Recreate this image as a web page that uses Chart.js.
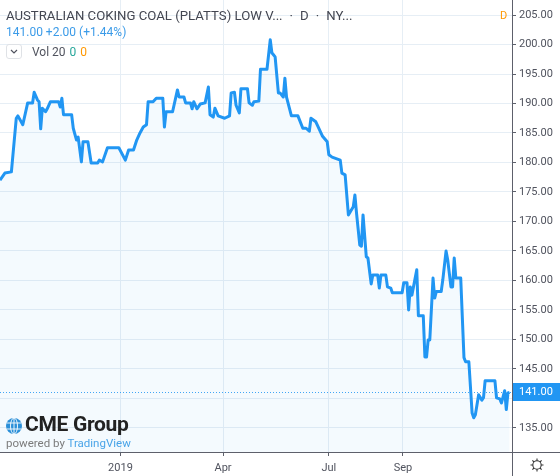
<!DOCTYPE html>
<html>
<head>
<meta charset="utf-8">
<script src="https://cdn.jsdelivr.net/npm/chart.js@4.4.1/dist/chart.umd.min.js"></script>
<style>
    html, body { margin: 0; padding: 0; background: #fff; }
    #wrap { position: relative; width: 560px; height: 476px; overflow: hidden; font-family: Roboto, "DejaVu Sans", sans-serif; }
    #chart { position: absolute; left: 0; top: 0; }
    .ov { position: absolute; white-space: nowrap; line-height: 1; }
    #titulo { left: 6px; top: 9px; font-size: 13.2px; color: #434651; }
    #titulo .sep { margin: 0 7px; }
    #precio { left: 6px; top: 26px; font-size: 12px; color: #3b9be8; }
    #volBox { left: 6px; top: 44px; width: 16px; height: 15px; border: 1px solid #dfe2e6; border-radius: 3px; box-sizing: border-box; }
    #vol { left: 32px; top: 46px; font-size: 12px; color: #50535e; }
    #vol .v1 { color: #26a69a; margin-left: 4px; }
    #vol .v2 { color: #ff9800; margin-left: 4px; }
    #marcaD { left: 500px; top: 10px; font-size: 11px; color: #ff9800; }
    #logo { left: 5px; top: 417px; }
    #cme { left: 25px; top: 414px; font-size: 21px; font-weight: bold; color: #222; letter-spacing: -0.3px; }
    #powered { left: 6px; top: 438px; font-size: 11.5px; color: #7b7b7b; }
    #powered span { color: #4aa4e8; }
    #gear { left: 529px; top: 457px; }
</style>
</head>
<body>
<div id="wrap">
    <canvas id="chart" width="560" height="476"></canvas>
    <div class="ov" id="titulo">AUSTRALIAN COKING COAL (PLATTS) LOW V...<span class="sep">&middot;</span>D<span class="sep">&middot;</span>NY...</div>
    <div class="ov" id="precio">141.00 +2.00 (+1.44%)</div>
    <div class="ov" id="volBox">
        <svg width="14" height="13" viewBox="0 0 14 13"><path d="M4 5 L7 8 L10 5" fill="none" stroke="#50535e" stroke-width="1.2"/></svg>
    </div>
    <div class="ov" id="vol">Vol 20<span class="v1">0</span><span class="v2">0</span></div>
    <div class="ov" id="marcaD">D</div>
    <svg class="ov" id="logo" width="18" height="18" viewBox="0 0 18 18">
        <circle cx="9" cy="9" r="8" fill="#2a8fd8"/>
        <ellipse cx="9" cy="9" rx="3.5" ry="8" fill="none" stroke="#fff" stroke-width="0.9"/>
        <line x1="9" y1="1" x2="9" y2="17" stroke="#fff" stroke-width="0.9"/>
        <line x1="1.5" y1="6" x2="16.5" y2="6" stroke="#fff" stroke-width="0.9"/>
        <line x1="1.5" y1="12" x2="16.5" y2="12" stroke="#fff" stroke-width="0.9"/>
    </svg>
    <div class="ov" id="cme">CME Group</div>
    <div class="ov" id="powered">powered by <span>TradingView</span></div>
    <svg class="ov" id="gear" width="16" height="16" viewBox="0 0 16 16">
        <circle cx="8" cy="8" r="4.2" fill="none" stroke="#333" stroke-width="1.1"/>
        <path d="M8 1.5 V3.8 M8 12.2 V14.5 M1.5 8 H3.8 M12.2 8 H14.5 M3.4 3.4 L5 5 M11 11 L12.6 12.6 M3.4 12.6 L5 11 M11 5 L12.6 3.4" stroke="#333" stroke-width="1.1"/>
    </svg>
</div>

<script>
// indice de barra (dias habiles desde el inicio del grafico) y precio
const barras = [
    0, 3, 7, 10, 11, 14, 17, 20, 21, 23, 24, 25, 26, 28, 29, 31, 36, 37, 38, 39,
    44, 45, 47, 48, 50, 51, 54, 56, 60, 61, 63, 66, 73, 77, 79, 82, 84, 86, 88, 90,
    91, 94, 96, 100, 101, 102, 106, 109, 110, 113, 114, 117, 118, 119, 121, 123, 126, 128, 129, 131,
    132, 134, 138, 141, 142, 144, 145, 147, 148, 152, 153, 155, 156, 159, 160, 164, 166, 167, 169, 171,
    172, 174, 175, 176, 179, 183, 186, 188, 190, 191, 194, 198, 201, 202, 204, 209, 210, 212, 214, 217,
    218, 219, 221, 222, 223, 225, 226, 228, 229, 232, 233, 234, 237, 238, 240, 241, 247, 248, 250, 251,
    252, 253, 256, 257, 260, 261, 262, 263, 264, 266, 267, 268, 271, 272, 274, 275, 277, 278, 279, 280,
    283, 285, 286, 288, 290, 291, 292, 294, 296, 297, 298, 304, 305, 307, 308, 310, 311, 312, 313
];
const precios = [
    177.0, 178.2, 178.4, 187.5, 187.9, 186.4, 190.1, 190.1, 191.9, 190.6, 190.3, 185.7, 189.2, 188.6, 189.1, 190.3, 190.3, 189.4, 190.9, 188.1,
    188.1, 185.8, 183.8, 184.3, 180.1, 183.5, 183.5, 179.9, 179.9, 180.4, 180.1, 182.5, 182.5, 180.4, 182.1, 182.1, 183.8, 185.0, 186.0, 186.4,
    190.3, 190.3, 190.9, 190.9, 186.0, 188.6, 188.6, 192.3, 191.1, 191.1, 190.1, 190.1, 189.1, 190.3, 189.1, 189.9, 190.1, 192.8, 188.1, 187.7,
    189.2, 187.9, 187.5, 187.9, 191.8, 191.9, 189.7, 188.4, 192.5, 192.5, 190.1, 189.7, 190.3, 190.4, 195.8, 195.8, 200.8, 198.6, 197.9, 191.8,
    191.8, 191.1, 194.3, 191.1, 187.9, 187.9, 185.8, 185.8, 185.3, 187.5, 186.9, 184.5, 183.5, 181.3, 180.9, 180.4, 178.2, 177.9, 171.1, 172.5,
    174.5, 171.4, 166.0, 165.8, 171.1, 164.0, 163.8, 159.4, 160.9, 160.9, 158.7, 160.9, 160.9, 158.9, 158.7, 157.9, 157.9, 159.6, 159.6, 155.0,
    158.9, 157.5, 161.8, 154.0, 154.0, 147.0, 147.0, 149.9, 149.9, 160.4, 157.0, 158.1, 158.1, 160.1, 165.0, 163.5, 158.9, 158.9, 163.8, 160.4,
    160.4, 146.9, 146.2, 146.2, 137.5, 136.7, 137.2, 140.6, 139.7, 140.1, 143.0, 143.0, 140.1, 139.9, 139.2, 141.3, 138.1, 140.9, 141.0
];

// marcas del eje x (en indice de barra) y sus textos
const barrasEtiquetas = [74, 137, 202, 247.5];
const textosEtiquetas = ["2019", "Apr", "Jul", "Sep"];

// marcas del eje de precios
const preciosEje = [135, 140, 145, 150, 155, 160, 165, 170, 175, 180, 185, 190, 195, 200, 205];

const ultimoPrecio = precios[precios.length - 1];

const extras = {
    id: "extras",
    afterDatasetsDraw(chart) {
        const { ctx, chartArea, scales } = chart;
        const y = Math.round(scales.y.getPixelForValue(ultimoPrecio)) + 0.5;
        ctx.save();
        ctx.strokeStyle = "rgba(33,150,243,0.85)";
        ctx.lineWidth = 1;
        ctx.setLineDash([1, 2]);
        ctx.beginPath();
        ctx.moveTo(chartArea.left, y);
        ctx.lineTo(chartArea.right, y);
        ctx.stroke();
        ctx.restore();
    },
    afterDraw(chart) {
        const { ctx, chartArea, scales, width, height } = chart;
        ctx.save();
        // marcos del panel
        ctx.strokeStyle = "#5d606b";
        ctx.lineWidth = 1;
        ctx.beginPath();
        ctx.moveTo(0, chartArea.bottom + 0.5);
        ctx.lineTo(width, chartArea.bottom + 0.5);
        ctx.moveTo(chartArea.right + 0.5, 0);
        ctx.lineTo(chartArea.right + 0.5, height);
        ctx.stroke();

        // etiqueta del ultimo precio
        const y = scales.y.getPixelForValue(ultimoPrecio);
        ctx.fillStyle = "#2196f3";
        ctx.fillRect(chartArea.right + 1, Math.round(y) - 9, width - chartArea.right - 1, 18);
        ctx.fillStyle = "#fff";
        ctx.font = "11px Roboto";
        ctx.textBaseline = "middle";
        ctx.textAlign = "left";
        ctx.fillText(ultimoPrecio.toFixed(2), chartArea.right + 7, Math.round(y) + 0.5);
        ctx.restore();
    }
};

const chart = new Chart(document.getElementById("chart"), {
    type: "line",
    data: {
        datasets: [{
            data: barras.map((b, i) => ({ x: b, y: precios[i] })),
            borderColor: "#2196f3",
            borderWidth: 3,
            borderJoinStyle: "round",
            backgroundColor: "rgba(33,150,243,0.05)",
            fill: "start",
            pointRadius: 0,
            tension: 0
        }]
    },
    options: {
        responsive: false,
        animation: false,
        layout: { padding: 0 },
        plugins: { legend: { display: false }, tooltip: { enabled: false } },
        scales: {
            x: {
                type: "linear",
                min: 0,
                max: 314.5,
                afterBuildTicks: s => { s.ticks = barrasEtiquetas.map(v => ({ value: v })); },
                afterFit: s => {
                    s.height = 24;
                    s.paddingLeft = 0;
                    s.paddingRight = 0;
                },
                grid: { color: "#e6eef5", tickColor: "#5d606b", tickLength: 4 },
                border: { display: false },
                ticks: {
                    color: "#50535e",
                    font: { family: "Roboto", size: 11 },
                    padding: 6,
                    maxRotation: 0,
                    autoSkip: false,
                    callback: (v, i) => textosEtiquetas[i]
                }
            },
            y: {
                position: "right",
                min: 130.9,
                max: 207.55,
                afterBuildTicks: s => { s.ticks = preciosEje.map(v => ({ value: v })); },
                afterFit: s => {
                    s.width = 48;
                    s.paddingTop = 0;
                    s.paddingBottom = 0;
                },
                grid: { color: "#e6eef5", tickColor: "#5d606b", tickLength: 4 },
                border: { display: false },
                ticks: {
                    color: "#50535e",
                    font: { family: "Roboto", size: 11 },
                    padding: 3,
                    callback: v => Number(v).toFixed(2)
                }
            }
        }
    },
    plugins: [extras]
});
</script>
</body>
</html>
